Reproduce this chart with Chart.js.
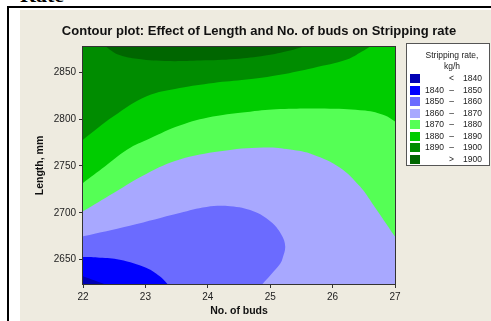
<!DOCTYPE html>
<html>
<head>
<meta charset="utf-8">
<script src="https://cdn.jsdelivr.net/npm/chart.js@4/dist/chart.umd.min.js"></script>
<style>
  body { margin: 0; width: 491px; height: 321px; overflow: hidden; background: #fff; position: relative; font-family: "Liberation Sans", Arial, sans-serif; }
  #heading { position: absolute; left: 20px; top: -16px; font: bold 22px/22px "Liberation Serif", serif; color: #000; }
  #hline { position: absolute; left: 7px; top: 6px; width: 484px; height: 2px; background: #000; }
  #vline { position: absolute; left: 7px; top: 6px; width: 2px; height: 315px; background: #000; }
  #panel { position: absolute; left: 20px; top: 10px; width: 471px; height: 311px; background: #eeebe0; }
  #legend { position: absolute; left: 386px; top: 33px; width: 82px; height: 121px; background: #fff; border: 1px solid #555; font-size: 8.5px; color: #222; }
  #legend .ttl { position: absolute; left: 4px; width: 82px; text-align: center; line-height: 10px; }
  #legend .sw { position: absolute; left: 3px; width: 10px; height: 9px; }
  #legend .lo, #legend .mid, #legend .hi { position: absolute; line-height: 9px; }
  #legend .lo { left: 12px; width: 25px; text-align: right; }
  #legend .mid { left: 40px; width: 9px; text-align: center; }
  #legend .hi { left: 50px; width: 25px; text-align: right; }
</style>
</head>
<body>
<div id="heading">Rate</div>
<div id="hline"></div>
<div id="vline"></div>
<div id="panel">
  <canvas id="chart" width="471" height="311"></canvas>
  <div id="legend">
    <div class="ttl" style="top:6px">Stripping rate,</div>
    <div class="ttl" style="top:17px">kg/h</div>
  </div>
</div>
<script>
// contour levels and band colours (lowest band first)
const levels = [1840, 1850, 1860, 1870, 1880, 1890, 1900];
const bandColors = ['#0000b4', '#0000ff', '#6b6bff', '#a8a8ff', '#55ff55', '#00cc00', '#008c00', '#006600'];

const budRange = [22, 27];
const lengthRange = [2624, 2877];

// contour lines: No. of buds (x), Length mm (y)
const rate1840X = [22, 22.11, 22.22, 22.33];
const rate1840Y = [2632.2, 2629.5, 2627, 2624.4];

const rate1850X = [22, 22.27, 22.59, 23.02, 23.23, 23.35];
const rate1850Y = [2652.9, 2652.1, 2650, 2641.1, 2632.2, 2624.4];

const rate1860X = [22, 22.75, 23.55, 23.98, 24.36, 24.73, 25.0, 25.18, 25.24, 25.2, 25.16, 25.01, 24.88];
const rate1860Y = [2674.9, 2686.3, 2699.9, 2706.3, 2706.9, 2701.6, 2690.9, 2676.7, 2664.2, 2651.8, 2645.7, 2634, 2624.4];

const rate1870X = [22, 22.49, 23.02, 23.55, 24.2, 24.89, 25.32, 25.69, 26.12, 26.44, 26.65, 27];
const rate1870Y = [2701.6, 2721.2, 2741.8, 2756.8, 2765.6, 2769.6, 2767.5, 2762.1, 2748.2, 2728, 2708.7, 2674.6];

const rate1880X = [22, 22.35, 22.71, 23.07, 23.55, 24.08, 24.68, 25.16, 25.96, 26.52, 26.84, 27];
const rate1880Y = [2731.9, 2749.4, 2767.5, 2779.2, 2793.1, 2802.7, 2808, 2810.7, 2811.2, 2809.1, 2803.8, 2797.4];

const rate1890X = [22, 22.49, 23.02, 23.55, 24.09, 24.62, 25.16, 25.69, 26.23, 26.47, 26.6];
const rate1890Y = [2778.1, 2803, 2824.4, 2833.3, 2838.7, 2842.2, 2847.5, 2854.7, 2863.6, 2872.1, 2877.4];

const rate1900X = [22.37, 22.45, 22.56, 22.83, 23.31, 23.88, 24.44, 24.92, 25.32, 25.53];
const rate1900Y = [2877.4, 2873.2, 2868.9, 2864.6, 2862, 2862.5, 2864.1, 2867.8, 2873.2, 2877.4];

// where each line leaves the plot decides which side the higher band lies on
const contours = [
  { x: rate1840X, y: rate1840Y, exit: 'bottom' },
  { x: rate1850X, y: rate1850Y, exit: 'bottom' },
  { x: rate1860X, y: rate1860Y, exit: 'bottom' },
  { x: rate1870X, y: rate1870Y, exit: 'right' },
  { x: rate1880X, y: rate1880Y, exit: 'right' },
  { x: rate1890X, y: rate1890Y, exit: 'top' },
  { x: rate1900X, y: rate1900Y, exit: 'none' }
];

// corner points well outside the axes so the filled shapes get clipped
const BL = { x: budRange[0] - 3, y: lengthRange[0] - 60 };
const BR = { x: budRange[1] + 3, y: lengthRange[0] - 60 };
const TR = { x: budRange[1] + 3, y: lengthRange[1] + 60 };
const TL = { x: budRange[0] - 3, y: lengthRange[1] + 60 };
const cornersFor = { bottom: [BR, TR, TL], right: [TR, TL], top: [TL], none: [] };

function outward(a, b) {
  return { x: a.x + (a.x - b.x), y: a.y + (a.y - b.y) };
}

function region(xs, ys, corners) {
  const pts = xs.map((x, i) => ({ x: x, y: ys[i] }));
  const n = pts.length;
  return [outward(pts[0], pts[1])].concat(pts, [outward(pts[n - 1], pts[n - 2])], corners);
}

const datasets = [{ data: [BL, BR, TR, TL], backgroundColor: bandColors[0], tension: 0 }];
contours.forEach(function (c, i) {
  datasets.push({ data: region(c.x, c.y, cornersFor[c.exit]), backgroundColor: bandColors[i + 1], tension: 0.4 });
});
datasets.forEach(function (d, i) {
  Object.assign(d, { order: datasets.length - i, fill: 'shape', borderWidth: 0, pointRadius: 0, xAxisID: 'x', yAxisID: 'y' });
});

// frame round the plot area
const plotFrame = {
  id: 'plotFrame',
  afterDatasetsDraw(chart) {
    const a = chart.chartArea;
    const ctx = chart.ctx;
    ctx.save();
    ctx.strokeStyle = '#333';
    ctx.lineWidth = 1;
    ctx.strokeRect(a.left - 0.5, a.top - 0.5, a.right - a.left + 1, a.bottom - a.top + 1);
    ctx.restore();
  }
};

Chart.defaults.font.family = '"Liberation Sans", Arial, sans-serif';

new Chart(document.getElementById('chart'), {
  type: 'line',
  data: { datasets: datasets },
  plugins: [plotFrame],
  options: {
    responsive: false,
    animation: false,
    events: [],
    layout: { padding: { left: 7, right: 0, top: 0, bottom: 0 } },
    elements: { line: { capBezierPoints: false } },
    plugins: {
      legend: { display: false },
      tooltip: { enabled: false },
      title: {
        display: true,
        text: 'Contour plot: Effect of Length and No. of buds on Stripping rate',
        color: '#111',
        font: { size: 13, weight: 'bold' },
        padding: { top: 14, bottom: 7.4 }
      }
    },
    scales: {
      x: {
        type: 'linear',
        min: budRange[0],
        max: budRange[1],
        ticks: { stepSize: 1, color: '#222', font: { size: 10 }, padding: 3 },
        grid: { display: true, drawOnChartArea: false, drawTicks: true, tickLength: 4, color: '#333' },
        border: { display: false },
        title: { display: true, text: 'No. of buds', color: '#111', font: { size: 10.5, weight: 'bold' }, padding: { top: 0, bottom: 3.7 } },
        afterFit(s) { s.height = 37; }
      },
      y: {
        type: 'linear',
        min: lengthRange[0],
        max: lengthRange[1],
        ticks: { stepSize: 50, includeBounds: false, format: { useGrouping: false }, color: '#222', font: { size: 10 }, padding: 3 },
        grid: { display: true, drawOnChartArea: false, drawTicks: true, tickLength: 4, color: '#333' },
        border: { display: false },
        title: { display: true, text: 'Length, mm', color: '#111', font: { size: 10.5, weight: 'bold' }, padding: { top: 6.7, bottom: 0 } },
        afterFit(s) { s.width = 56; }
      },
      pad: {
        position: 'right',
        display: true,
        grid: { display: false },
        border: { display: false },
        ticks: { display: false },
        afterFit(s) { s.width = 96; }
      }
    }
  }
});

// legend rows built from the levels
const legend = document.getElementById('legend');
bandColors.forEach(function (color, i) {
  const top = 30 + i * 11.55;
  const low = i === 0 ? '' : (i === levels.length ? '' : levels[i - 1]);
  const mid = i === 0 ? '<' : (i === levels.length ? '>' : '–');
  const high = i === levels.length ? levels[i - 1] : levels[i];
  legend.insertAdjacentHTML('beforeend',
    '<div class="sw" style="top:' + top + 'px;background:' + color + '"></div>' +
    '<div class="lo" style="top:' + top + 'px">' + low + '</div>' +
    '<div class="mid" style="top:' + top + 'px">' + mid + '</div>' +
    '<div class="hi" style="top:' + top + 'px">' + high + '</div>');
});
</script>
</body>
</html>
